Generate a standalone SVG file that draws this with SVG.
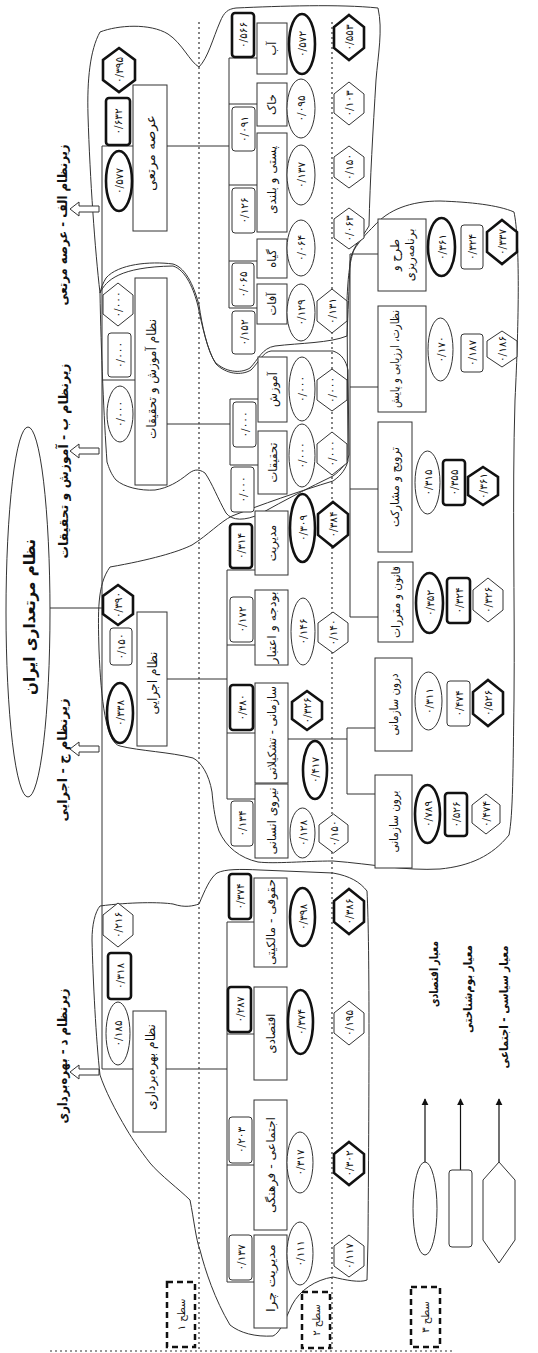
<svg xmlns="http://www.w3.org/2000/svg" width="538" height="1353" viewBox="0 0 538 1353">
<style>
text { font-family: "DejaVu Sans", "Noto Sans", sans-serif; fill:#111; text-anchor:middle; dominant-baseline:central; }
.ttl { font-size:16px; font-weight:bold; }
.sub { font-size:13px; font-weight:bold; }
.l1 { font-size:12.5px; }
.lab { font-size:11.5px; }
.num { font-size:10.5px; }
.lg { font-size:11.5px; font-weight:bold; }
.lv { font-size:10px; }
.box { fill:#fff; stroke:#333; stroke-width:1; }
.ind { fill:#fff; stroke:#333; stroke-width:1; }
.thk { stroke:#111; stroke-width:2.6; }
.ln { stroke:#333; stroke-width:1; fill:none; }
.arr { stroke:#111; stroke-width:1.2; fill:none; marker-end:url(#ah); }
.dot { stroke:#333; stroke-width:1.2; stroke-dasharray:2 3; fill:none; }
.blob { fill:none; stroke:#333; stroke-width:1; }
.lvl { fill:#fff; stroke:#111; stroke-width:2.5; stroke-dasharray:6 4; }
.harr { fill:#fff; stroke:#333; stroke-width:1; }
</style>
<defs>
<marker id="ah" viewBox="0 0 10 10" refX="9" refY="5" markerWidth="6" markerHeight="6" orient="auto"><path d="M0,0 L10,5 L0,10 z" fill="#111"/></marker>
</defs>
<rect width="538" height="1353" fill="#fff"/>

<g id="guides">
<path class="dot" d="M199,22 V1352 M332,22 V1352 M50,1351 H452"/>
</g>

<g id="blobs">
<path class="blob" d="M100,32 C118,25 150,23 168,34 C182,43 190,62 199,67 C208,58 213,38 220,22 C224,12 228,9 236,8 C280,6 340,4 378,8 C383,30 378,55 376,80 C373,130 370,180 369,226 C362,238 352,247 350,262 C349,290 348,312 347,336 C330,343 300,343 275,346 C262,348 258,360 250,368 C240,374 225,372 215,362 C207,350 202,325 199,305 C195,290 187,268 173,264 C150,261 118,264 106,278 C103,283 101,288 100,293 C95,250 90,180 88,115 C87,80 90,50 100,32 Z"/>
<path class="blob" d="M100,293 C106,280 120,267 173,266 C186,270 194,290 198,306 C202,326 208,352 216,364 C226,374 241,376 251,370 C259,362 263,352 271,351 L333,351 C342,354 346,361 348,370 L349,455 C347,463 341,470 333,476 C310,487 285,500 260,514 C245,521 232,521 226,513 C218,499 212,483 205,473 C198,468 193,470 188,474 C178,482 168,488 155,490 C140,491 124,487 116,480 C111,474 109,468 107,462 C104,420 101,350 100,293 Z"/>
<path class="blob" d="M110,567 C150,560 178,552 192,545 C208,535 220,522 232,516 C260,505 300,491 333,481 C342,475 346,468 348,461 L347,300 C348,275 350,260 354,250 C360,240 367,233 374,226 C388,210 410,201 440,201 C470,202 498,205 514,212 C520,240 519,320 515,400 C512,500 515,600 514,700 C513,770 513,815 509,835 C492,856 470,866 440,869 C405,871 372,864 333,861 C305,861 275,864 258,862 C240,858 226,847 219,831 C214,816 213,802 212,792 C209,774 201,762 193,758 C170,752 140,751 120,746 C106,743 101,700 99,650 C98,612 97,585 110,567 Z"/>
<path class="blob" d="M100,906 C130,902 160,902 173,904 C185,908 193,906 199,904 C205,890 210,878 217,873 C225,869 240,869 260,870 L333,873 C350,876 360,882 367,891 C370,950 369,1100 368,1240 L367,1280 C360,1283 345,1280 333,1277 C315,1280 300,1290 292,1305 C285,1320 280,1333 273,1336 C255,1337 240,1333 230,1325 C215,1300 205,1270 200,1250 C196,1240 194,1220 190,1200 C180,1190 160,1175 150,1163 C140,1150 133,1140 127,1130 C115,1110 105,1090 100,1075 C96,1040 93,980 92,940 C92,925 95,912 100,906 Z"/>
</g>

<g id="connectors">
<path class="ln" d="M102,146 V1069 M102,146 H133 M102,380 H135 M102,1069 H133 M50,608 H102"/>
<path class="ln" d="M167,146 H229 M229,58 V308 M229,58 H257 M229,104 H257 M229,185 H257 M229,261 H257 M229,308 H257"/>
<path class="ln" d="M167,424 H230 M230,399 V465 M230,399 H258 M230,465 H258"/>
<path class="ln" d="M167,679 H227 M227,570 V799 M227,570 H255 M227,645 H255 M227,733 H255 M227,799 H255"/>
<path class="ln" d="M288,739 H347 M347,728 V794 M347,728 H375 M347,794 H375"/>
<path class="ln" d="M350,254 V617 M350,254 H378 M350,387 H378 M350,489 H378 M350,617 H378"/>
<path class="ln" d="M166,1069 H227 M227,922 V1282 M227,922 H254 M227,1034 H254 M227,1165 H254 M227,1282 H254"/>
</g>

<g id="title">
<ellipse cx="28" cy="612" rx="22" ry="185" fill="#fff" stroke="#333" stroke-width="1"/>
<text class="ttl" transform="translate(29,617) rotate(-90)" textLength="156" lengthAdjust="spacingAndGlyphs">نظام مرتعداری ایران</text>
</g>

<g id="subsystems">
<polygon class="harr" points="70,209 79,202 79,206 99,206 99,212 79,212 79,216"/>
<polygon class="harr" points="70,451 79,444 79,448 99,448 99,454 79,454 79,458"/>
<polygon class="harr" points="70,749 79,742 79,746 99,746 99,752 79,752 79,756"/>
<polygon class="harr" points="70,1072 79,1065 79,1069 99,1069 99,1075 79,1075 79,1079"/>
<text class="sub" transform="translate(62,225) rotate(-90)" textLength="161" lengthAdjust="spacingAndGlyphs">زیرنظام الف - عرصه مرتعی</text>
<text class="sub" transform="translate(63,461) rotate(-90)" textLength="195" lengthAdjust="spacingAndGlyphs">زیرنظام ب - آموزش و تحقیقات</text>
<text class="sub" transform="translate(62,760) rotate(-90)" textLength="123" lengthAdjust="spacingAndGlyphs">زیرنظام ج - اجرایی</text>
<text class="sub" transform="translate(62,1056) rotate(-90)" textLength="135" lengthAdjust="spacingAndGlyphs">زیرنظام د - بهره&#x200C;برداری</text>
</g>

<!-- Level 1 -->
<g id="n-arse">
<rect class="box" x="133" y="85" width="34" height="146"/>
<text class="l1" transform="translate(150,153) rotate(-90)" textLength="76" lengthAdjust="spacingAndGlyphs">عرصه مرتعی</text>
<polygon class="ind thk" points="119,48 135,60 135,80 119,92 103,80 103,60"/>
<text class="num" transform="translate(119,70) rotate(-90)">۰/۳۹۵</text>
<rect class="ind thk" x="106" y="98" width="24" height="47" rx="3"/>
<text class="num" transform="translate(118,121.5) rotate(-90)">۰/۶۳۲</text>
<ellipse class="ind thk" cx="119" cy="181" rx="13" ry="30"/>
<text class="num" transform="translate(119,181) rotate(-90)">۰/۵۷۷</text>
</g>
<g id="n-amoozesh-l1">
<rect class="box" x="135" y="278" width="32" height="207"/>
<text class="l1" transform="translate(151,379) rotate(-90)" textLength="120" lengthAdjust="spacingAndGlyphs">نظام آموزش و تحقیقات</text>
<polygon class="ind" points="118,283 133,295 133,314 118,326 103,314 103,295"/>
<text class="num" transform="translate(118,304.5) rotate(-90)">۰/۰۰۰</text>
<rect class="ind" x="108" y="333" width="23" height="44" rx="3"/>
<text class="num" transform="translate(119.5,355) rotate(-90)">۰/۰۰۰</text>
<ellipse class="ind" cx="120" cy="414" rx="13" ry="28"/>
<text class="num" transform="translate(120,414) rotate(-90)">۰/۰۰۰</text>
</g>
<g id="n-ejraei">
<rect class="box" x="137" y="612" width="30" height="134"/>
<text class="l1" transform="translate(152,683) rotate(-90)" textLength="63" lengthAdjust="spacingAndGlyphs">نظام اجرایی</text>
<polygon class="ind thk" points="118,585 133,596 133,614 118,625 103,614 103,596"/>
<text class="num" transform="translate(118,605) rotate(-90)">۰/۳۹۰</text>
<rect class="ind" x="110" y="628" width="22" height="37" rx="3"/>
<text class="num" transform="translate(121,646.5) rotate(-90)">۰/۱۵۰</text>
<ellipse class="ind thk" cx="120" cy="713" rx="13" ry="30"/>
<text class="num" transform="translate(120,713) rotate(-90)">۰/۳۳۸</text>
</g>
<g id="n-bahre">
<rect class="box" x="133" y="1011" width="33" height="121"/>
<text class="l1" transform="translate(150,1067) rotate(-90)" textLength="86" lengthAdjust="spacingAndGlyphs">نظام بهره&#x200C;برداری</text>
<polygon class="ind" points="118,903 133,915 133,935 118,947 103,935 103,915"/>
<text class="num" transform="translate(118,925) rotate(-90)">۰/۲۱۶</text>
<rect class="ind thk" x="108" y="953" width="23" height="46" rx="3"/>
<text class="num" transform="translate(119.5,976) rotate(-90)">۰/۳۱۸</text>
<ellipse class="ind" cx="118" cy="1033.5" rx="12" ry="31.5"/>
<text class="num" transform="translate(118,1033.5) rotate(-90)">۰/۱۸۵</text>
</g>

<!-- Level 2 : arse -->
<g id="n-ab">
<rect class="box" x="257" y="23" width="30" height="51"/>
<text class="lab" transform="translate(272,48.5) rotate(-90)">آب</text>
<rect class="ind thk" x="232" y="13" width="22" height="44" rx="3"/>
<text class="num" transform="translate(243,35) rotate(-90)">۰/۵۶۶</text>
<ellipse class="ind thk" cx="302" cy="44" rx="13" ry="30"/>
<text class="num" transform="translate(302,44) rotate(-90)">۰/۵۷۲</text>
<polygon class="ind thk" points="349,15 364,27 364,48 349,60 334,48 334,27"/>
<text class="num" transform="translate(349,37.5) rotate(-90)">۰/۵۵۳</text>
</g>
<g id="n-khak">
<rect class="box" x="257" y="83" width="30" height="43"/>
<text class="lab" transform="translate(272,104.5) rotate(-90)">خاک</text>
<rect class="ind" x="232" y="107" width="23" height="44" rx="3"/>
<text class="num" transform="translate(243.5,129) rotate(-90)">۰/۰۹۱</text>
<ellipse class="ind" cx="301" cy="108.5" rx="14" ry="29.5"/>
<text class="num" transform="translate(301,108.5) rotate(-90)">۰/۰۹۵</text>
<polygon class="ind" points="349,82 364,94 364,113 349,125 334,113 334,94"/>
<text class="num" transform="translate(349,103.5) rotate(-90)">۰/۱۰۳</text>
</g>
<g id="n-pasti">
<rect class="box" x="257" y="133" width="30" height="99"/>
<text class="lab" transform="translate(272,180) rotate(-90)" textLength="68" lengthAdjust="spacingAndGlyphs">پستی و بلندی</text>
<rect class="ind" x="232" y="188" width="23" height="45" rx="3"/>
<text class="num" transform="translate(243.5,210.5) rotate(-90)">۰/۱۲۶</text>
<ellipse class="ind" cx="301" cy="175" rx="14" ry="30"/>
<text class="num" transform="translate(301,175) rotate(-90)">۰/۱۳۷</text>
<polygon class="ind" points="349,146 364,157 364,177 349,188 334,177 334,157"/>
<text class="num" transform="translate(349,167) rotate(-90)">۰/۱۵۰</text>
</g>
<g id="n-giah">
<rect class="box" x="257" y="239" width="30" height="39"/>
<text class="lab" transform="translate(272,258.5) rotate(-90)">گیاه</text>
<rect class="ind" x="232" y="263" width="22" height="43" rx="3"/>
<text class="num" transform="translate(243,284.5) rotate(-90)">۰/۰۶۵</text>
<ellipse class="ind" cx="301" cy="248" rx="14" ry="28"/>
<text class="num" transform="translate(301,248) rotate(-90)">۰/۰۶۴</text>
<polygon class="ind" points="349,208 364,219 364,238 349,249 334,238 334,219"/>
<text class="num" transform="translate(349,228.5) rotate(-90)">۰/۰۶۳</text>
</g>
<g id="n-afat">
<rect class="box" x="257" y="284" width="30" height="40"/>
<text class="lab" transform="translate(272,304) rotate(-90)">آفات</text>
<rect class="ind" x="232" y="311" width="23" height="43" rx="3"/>
<text class="num" transform="translate(243.5,332.5) rotate(-90)">۰/۱۵۲</text>
<ellipse class="ind" cx="301" cy="312.5" rx="14" ry="28.5"/>
<text class="num" transform="translate(301,312.5) rotate(-90)">۰/۱۲۹</text>
<polygon class="ind" points="332,289 347,301 347,321 332,333 317,321 317,301"/>
<text class="num" transform="translate(332,311) rotate(-90)">۰/۱۳۱</text>
</g>

<!-- Level 2 : amoozesh -->
<g id="n-amoozesh">
<rect class="box" x="258" y="357" width="29" height="65"/>
<text class="lab" transform="translate(272.5,389.5) rotate(-90)">آموزش</text>
<rect class="ind" x="233" y="402" width="23" height="45" rx="3"/>
<text class="num" transform="translate(244.5,424.5) rotate(-90)">۰/۰۰۰</text>
<ellipse class="ind" cx="302" cy="389" rx="13" ry="32"/>
<text class="num" transform="translate(302,389) rotate(-90)">۰/۰۰۰</text>
<polygon class="ind" points="332,369 347,380 347,400 332,411 317,400 317,380"/>
<text class="num" transform="translate(332,390) rotate(-90)">۰/۰۰۰</text>
</g>
<g id="n-tahghighat">
<rect class="box" x="258" y="431" width="29" height="63"/>
<text class="lab" transform="translate(272.5,462.5) rotate(-90)">تحقیقات</text>
<rect class="ind" x="231" y="467" width="23" height="45" rx="3"/>
<text class="num" transform="translate(242.5,489.5) rotate(-90)">۰/۰۰۰</text>
<ellipse class="ind" cx="302" cy="455.5" rx="13" ry="31.5"/>
<text class="num" transform="translate(302,455.5) rotate(-90)">۰/۰۰۰</text>
<polygon class="ind" points="332,432 347,444 347,463 332,475 317,463 317,444"/>
<text class="num" transform="translate(332,453.5) rotate(-90)">۰/۰۰۰</text>
</g>

<!-- Level 2 : ejraei -->
<g id="n-modiriat">
<rect class="box" x="255" y="511" width="33" height="64"/>
<text class="lab" transform="translate(271.5,543) rotate(-90)">مدیریت</text>
<rect class="ind thk" x="230" y="524" width="22" height="44" rx="3"/>
<text class="num" transform="translate(241,546) rotate(-90)">۰/۳۱۴</text>
<ellipse class="ind thk" cx="302.5" cy="528" rx="12.5" ry="34"/>
<text class="num" transform="translate(302.5,528) rotate(-90)">۰/۳۰۹</text>
<polygon class="ind thk" points="333,502 348,514 348,535 333,547 318,535 318,514"/>
<text class="num" transform="translate(333,524.5) rotate(-90)">۰/۳۸۴</text>
</g>
<g id="n-boodje">
<rect class="box" x="255" y="590" width="33" height="75"/>
<text class="lab" transform="translate(271.5,627.5) rotate(-90)" textLength="72" lengthAdjust="spacingAndGlyphs">بودجه و اعتبار</text>
<rect class="ind" x="230" y="597" width="23" height="45" rx="3"/>
<text class="num" transform="translate(241.5,619.5) rotate(-90)">۰/۱۷۲</text>
<ellipse class="ind" cx="303" cy="631.5" rx="12" ry="33.5"/>
<text class="num" transform="translate(303,631.5) rotate(-90)">۰/۱۴۶</text>
<polygon class="ind" points="333,612 348,623 348,642 333,653 318,642 318,623"/>
<text class="num" transform="translate(333,632.5) rotate(-90)">۰/۱۴۰</text>
</g>
<g id="n-sazmani">
<rect class="box" x="255" y="683" width="33" height="100"/>
<text class="lab" transform="translate(271.5,733) rotate(-90)" textLength="94" lengthAdjust="spacingAndGlyphs">سازمانی - تشکیلاتی</text>
<rect class="ind thk" x="230" y="685" width="23" height="45" rx="3"/>
<text class="num" transform="translate(241.5,707.5) rotate(-90)">۰/۳۸۰</text>
<polygon class="ind thk" points="307,691 322,702 322,719 307,730 292,719 292,702"/>
<text class="num" transform="translate(307,710.5) rotate(-90)">۰/۳۲۶</text>
<ellipse class="ind thk" cx="315" cy="770" rx="12" ry="29"/>
<text class="num" transform="translate(315,770) rotate(-90)">۰/۴۱۷</text>
</g>
<g id="n-niroo">
<rect class="box" x="255" y="784" width="33" height="74"/>
<text class="lab" transform="translate(271.5,821) rotate(-90)" textLength="67" lengthAdjust="spacingAndGlyphs">نیروی انسانی</text>
<rect class="ind" x="231" y="801" width="22" height="45" rx="3"/>
<text class="num" transform="translate(242,823.5) rotate(-90)">۰/۱۳۴</text>
<ellipse class="ind" cx="302.5" cy="833" rx="12.5" ry="25"/>
<text class="num" transform="translate(302.5,833) rotate(-90)">۰/۱۲۸</text>
<polygon class="ind" points="333.5,814 348,825 348,842 333.5,853 319,842 319,825"/>
<text class="num" transform="translate(333.5,833.5) rotate(-90)">۰/۱۵۰</text>
</g>

<!-- Level 3 -->
<g id="n-tarh">
<rect class="box" x="378" y="219" width="48" height="72"/>
<text class="lab" transform="translate(395,255) rotate(-90)">طرح و</text>
<text class="lab" transform="translate(410,255) rotate(-90)">برنامه&#x200C;ریزی</text>
<ellipse class="ind thk" cx="441.5" cy="247" rx="13.5" ry="29"/>
<text class="num" transform="translate(441.5,247) rotate(-90)">۰/۳۶۱</text>
<rect class="ind" x="461" y="225" width="22" height="44" rx="3"/>
<text class="num" transform="translate(472,247) rotate(-90)">۰/۳۲۴</text>
<polygon class="ind thk" points="502,220 517,232 517,252 502,264 487,252 487,232"/>
<text class="num" transform="translate(502,242) rotate(-90)">۰/۳۳۷</text>
</g>
<g id="n-nezarat">
<rect class="box" x="378" y="306" width="48" height="106"/>
<text class="lab" transform="translate(395,359) rotate(-90)" textLength="98" lengthAdjust="spacingAndGlyphs">نظارت، ارزیابی و پایش</text>
<ellipse class="ind" cx="440.5" cy="349.5" rx="12.5" ry="31.5"/>
<text class="num" transform="translate(440.5,349.5) rotate(-90)">۰/۱۷۰</text>
<rect class="ind" x="461" y="334" width="22" height="38" rx="3"/>
<text class="num" transform="translate(472,353) rotate(-90)">۰/۱۸۷</text>
<polygon class="ind" points="502,331 517,341 517,357 502,367 487,357 487,341"/>
<text class="num" transform="translate(502,349) rotate(-90)">۰/۱۸۶</text>
</g>
<g id="n-tarvij">
<rect class="box" x="378" y="422" width="34" height="130"/>
<text class="lab" transform="translate(395,487) rotate(-90)" textLength="80" lengthAdjust="spacingAndGlyphs">ترویج و مشارکت</text>
<ellipse class="ind" cx="427.5" cy="482.5" rx="12.5" ry="31.5"/>
<text class="num" transform="translate(427.5,482.5) rotate(-90)">۰/۳۱۵</text>
<rect class="ind thk" x="443" y="460" width="22" height="45" rx="3"/>
<text class="num" transform="translate(454,482.5) rotate(-90)">۰/۳۵۵</text>
<polygon class="ind thk" points="483,467 498,477 498,495 483,505 468,495 468,477"/>
<text class="num" transform="translate(483,486) rotate(-90)">۰/۳۶۱</text>
</g>
<g id="n-ghanoon">
<rect class="box" x="378" y="562" width="35" height="80"/>
<text class="lab" transform="translate(395.5,602) rotate(-90)" textLength="72" lengthAdjust="spacingAndGlyphs">قانون و مقررات</text>
<ellipse class="ind thk" cx="429.5" cy="603" rx="13.5" ry="30"/>
<text class="num" transform="translate(429.5,603) rotate(-90)">۰/۳۵۲</text>
<rect class="ind thk" x="447" y="578" width="23" height="45" rx="3"/>
<text class="num" transform="translate(458.5,600.5) rotate(-90)">۰/۳۲۴</text>
<polygon class="ind" points="488,578 503,590 503,610 488,622 473,610 473,590"/>
<text class="num" transform="translate(488,600) rotate(-90)">۰/۳۲۶</text>
</g>
<g id="n-daroon">
<rect class="box" x="375" y="658" width="37" height="93"/>
<text class="lab" transform="translate(393.5,704.5) rotate(-90)" textLength="62" lengthAdjust="spacingAndGlyphs">درون سازمانی</text>
<ellipse class="ind" cx="428.5" cy="701" rx="13.5" ry="29"/>
<text class="num" transform="translate(428.5,701) rotate(-90)">۰/۳۱۱</text>
<rect class="ind" x="447" y="681" width="23" height="45" rx="3"/>
<text class="num" transform="translate(458.5,703.5) rotate(-90)">۰/۴۷۴</text>
<polygon class="ind thk" points="488,680 503,692 503,714 488,726 473,714 473,692"/>
<text class="num" transform="translate(488,703) rotate(-90)">۰/۵۲۶</text>
</g>
<g id="n-boroon">
<rect class="box" x="375" y="775" width="37" height="93"/>
<text class="lab" transform="translate(393.5,821.5) rotate(-90)" textLength="62" lengthAdjust="spacingAndGlyphs">برون سازمانی</text>
<ellipse class="ind thk" cx="427.5" cy="814" rx="12.5" ry="29"/>
<text class="num" transform="translate(427.5,814) rotate(-90)">۰/۷۸۹</text>
<rect class="ind thk" x="445" y="793" width="22" height="43" rx="3"/>
<text class="num" transform="translate(456,814.5) rotate(-90)">۰/۵۲۶</text>
<polygon class="ind" points="486,794 500,805 500,823 486,834 472,823 472,805"/>
<text class="num" transform="translate(486,814) rotate(-90)">۰/۴۷۴</text>
</g>

<!-- Level 2 : bahre -->
<g id="n-hoghooghi">
<rect class="box" x="254" y="878" width="33" height="89"/>
<text class="lab" transform="translate(270.5,922) rotate(-90)" textLength="86" lengthAdjust="spacingAndGlyphs">حقوقی - مالکیتی</text>
<rect class="ind thk" x="229" y="874" width="22" height="45" rx="3"/>
<text class="num" transform="translate(240,896.5) rotate(-90)">۰/۳۷۴</text>
<ellipse class="ind thk" cx="302.5" cy="917" rx="12.5" ry="29"/>
<text class="num" transform="translate(302.5,917) rotate(-90)">۰/۳۹۸</text>
<polygon class="ind thk" points="349,889 364,901 364,922 349,934 334,922 334,901"/>
<text class="num" transform="translate(349,911.5) rotate(-90)">۰/۳۸۶</text>
</g>
<g id="n-eghtesadi">
<rect class="box" x="254" y="987" width="33" height="93"/>
<text class="lab" transform="translate(270.5,1033.5) rotate(-90)">اقتصادی</text>
<rect class="ind thk" x="228" y="987" width="23" height="45" rx="3"/>
<text class="num" transform="translate(239.5,1009.5) rotate(-90)">۰/۲۸۷</text>
<ellipse class="ind thk" cx="300.5" cy="1022" rx="12.5" ry="32"/>
<text class="num" transform="translate(300.5,1022) rotate(-90)">۰/۳۷۴</text>
<polygon class="ind" points="349,1001 364,1013 364,1033 349,1045 334,1033 334,1013"/>
<text class="num" transform="translate(349,1023) rotate(-90)">۰/۱۹۵</text>
</g>
<g id="n-ejtemaei">
<rect class="box" x="254" y="1100" width="33" height="130"/>
<text class="lab" transform="translate(270.5,1165) rotate(-90)" textLength="96" lengthAdjust="spacingAndGlyphs">اجتماعی - فرهنگی</text>
<rect class="ind" x="229" y="1117" width="23" height="46" rx="3"/>
<text class="num" transform="translate(240.5,1140) rotate(-90)">۰/۲۰۳</text>
<ellipse class="ind" cx="300" cy="1162.5" rx="13" ry="30.5"/>
<text class="num" transform="translate(300,1162.5) rotate(-90)">۰/۳۱۷</text>
<polygon class="ind thk" points="349,1142 364,1154 364,1173 349,1185 334,1173 334,1154"/>
<text class="num" transform="translate(349,1163.5) rotate(-90)">۰/۳۰۲</text>
</g>
<g id="n-chara">
<rect class="box" x="254" y="1235" width="33" height="93"/>
<text class="lab" transform="translate(270.5,1278) rotate(-90)" textLength="68" lengthAdjust="spacingAndGlyphs">مدیریت چرا</text>
<rect class="ind" x="229" y="1235" width="23" height="45" rx="3"/>
<text class="num" transform="translate(240.5,1257.5) rotate(-90)">۰/۱۳۷</text>
<ellipse class="ind" cx="300" cy="1253.5" rx="13" ry="31.5"/>
<text class="num" transform="translate(300,1253.5) rotate(-90)">۰/۱۱۱</text>
<polygon class="ind" points="349,1235 364,1246 364,1266 349,1277 334,1266 334,1246"/>
<text class="num" transform="translate(349,1256) rotate(-90)">۰/۱۱۷</text>
</g>

<g id="levels">
<rect class="lvl" x="167" y="1282" width="28" height="65"/>
<text class="lv" transform="translate(181,1314.5) rotate(-90)">سطح ۱</text>
<rect class="lvl" x="302" y="1292" width="28" height="56"/>
<text class="lv" transform="translate(316,1320) rotate(-90)">سطح ۲</text>
<rect class="lvl" x="411" y="1287" width="29" height="60"/>
<text class="lv" transform="translate(425.5,1317) rotate(-90)">سطح ۳</text>
</g>

<g id="legend">
<path class="arr" d="M425,1162 V1099"/>
<path class="arr" d="M460.5,1170 V1099"/>
<path class="arr" d="M499,1162 V1099"/>
<ellipse class="ind" cx="425" cy="1208.5" rx="12" ry="46.5"/>
<rect class="ind" x="449" y="1170" width="23" height="77" rx="3"/>
<polygon class="ind" points="499,1162 515,1180 515,1240 499,1263 483,1240 483,1180"/>
<text class="lg" transform="translate(434,974) rotate(-90)" textLength="66" lengthAdjust="spacingAndGlyphs">معیار اقتصادی</text>
<text class="lg" transform="translate(468,989) rotate(-90)" textLength="88" lengthAdjust="spacingAndGlyphs">معیار بوم&#x200C;شناختی</text>
<text class="lg" transform="translate(504,1007) rotate(-90)" textLength="123" lengthAdjust="spacingAndGlyphs">معیار سیاسی - اجتماعی</text>
</g>
</svg>
